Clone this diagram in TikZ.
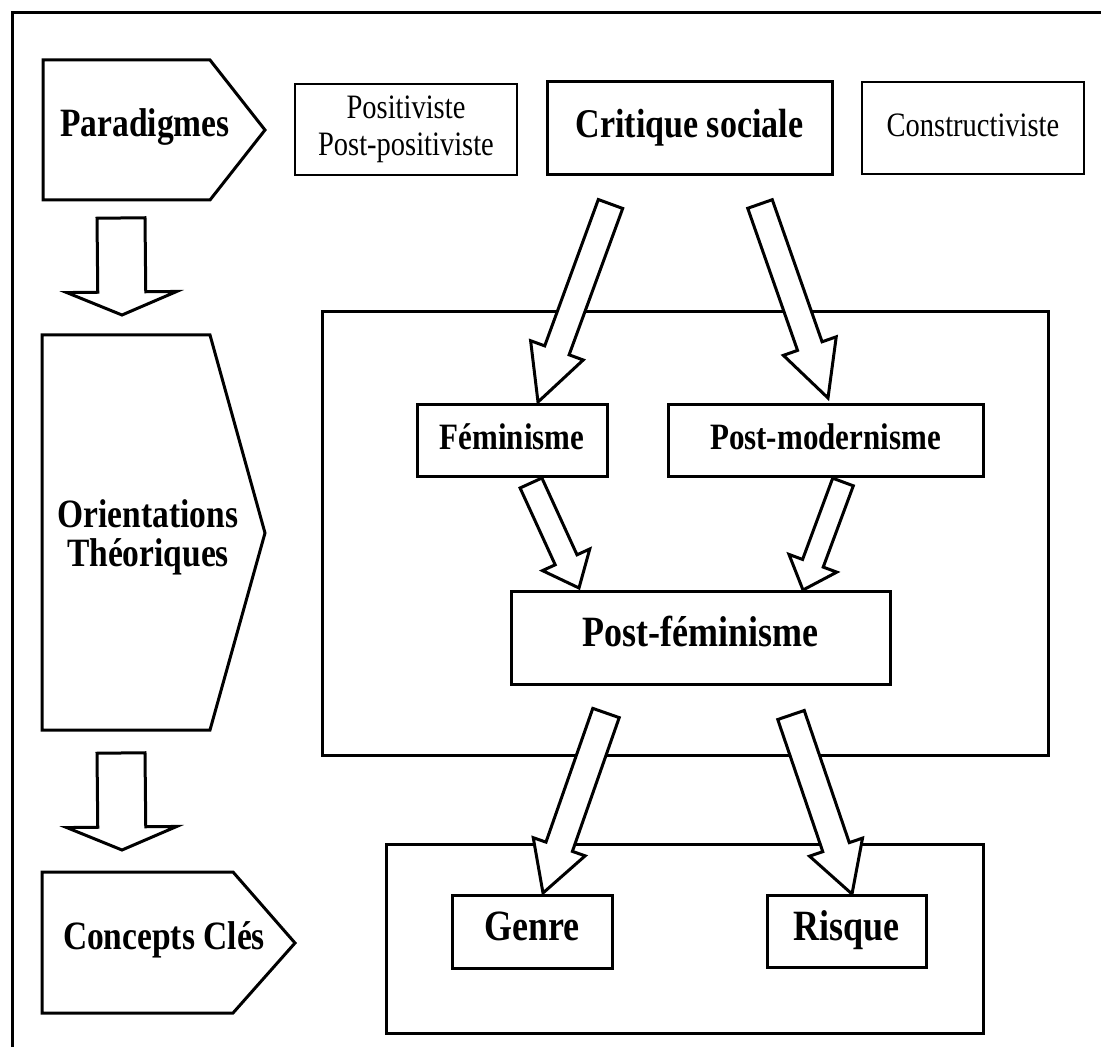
\documentclass[tikz,border=0pt]{standalone}
\usepackage{fontspec}
\usepackage{graphicx}
\setmainfont{Liberation Serif}
\usetikzlibrary{calc}
\newcommand\blockarr[6]{%
  \coordinate (#6t) at (#1);
  \coordinate (#6p) at (#2);
  \coordinate (#6b) at ($(#6p)!#5!(#6t)$);
  \draw[blk] ($(#6t)!#3!90:(#6p)$) -- ($(#6b)!#3!90:(#6p)$) -- ($(#6b)!#4!90:(#6p)$)
    -- (#6p) -- ($(#6b)!#4!-90:(#6p)$) -- ($(#6b)!#3!-90:(#6p)$) -- ($(#6t)!#3!-90:(#6p)$) -- cycle;
}
\newcommand\fLbl{\fontsize{33.5}{37}\selectfont\bfseries}
\newcommand\fLblTwo{\fontsize{33.5}{31}\selectfont\bfseries}
\newcommand\fCrit{\fontsize{34}{37}\selectfont\bfseries}
\newcommand\fMid{\fontsize{31}{34}\selectfont\bfseries}
\newcommand\fLow{\fontsize{36}{38}\selectfont\bfseries}
\newcommand\fReg{\fontsize{28.5}{34}\selectfont}
\newcommand\fRegTwo{\fontsize{28.5}{31.5}\selectfont}
\newcommand\tx[2]{\scalebox{1}[1.2]{#1\strut #2}}
\newcommand\txx[2]{\scalebox{1}[1.2]{#1\begin{tabular}{@{}c@{}}#2\end{tabular}}}
\tikzset{
  thick box/.style={draw, line width=3pt, inner sep=0pt, align=center},
  thin box/.style={draw, line width=1.5pt, inner sep=0pt, align=center},
  blk/.style={draw, line width=3pt, line join=miter, fill=white},
  pent/.style={draw, line width=3pt, line join=miter},
  lbl/.style={inner sep=0pt, align=center}
}
\begin{document}
\begin{tikzpicture}[x=1pt,y=-1pt]
\useasboundingbox (0,0) rectangle (1101,1056);
% outer frame (top and left edges)
\draw[line width=3pt] (12,1047) -- (12,13) -- (1101,13);

% left column pentagons
\draw[pent] (43,60) -- (210,60) -- (265,130) -- (210,200) -- (43,200) -- cycle;
\node[lbl] (para) at (145,128) {\tx{\fLbl}{Paradigmes}};
\draw[pent] (42,335) -- (210,335) -- (265,533) -- (210,730) -- (42,730) -- cycle;
\node[lbl] (orie) at (148,539) {\txx{\fLblTwo}{Orientations\\Théoriques}};
\draw[pent] (42,872) -- (233,872) -- (295,943) -- (233,1013) -- (42,1013) -- cycle;
\node[lbl] (conc) at (164,941) {\tx{\fLbl}{Concepts Clés}};

% paradigm boxes
\node[thin box, minimum width=222pt, minimum height=91pt] (posi) at (406,129.5)
  {\txx{\fRegTwo}{Positiviste\\Post-positiviste}};
\node[thick box, minimum width=285pt, minimum height=93pt] (crit) at (689.5,128.5)
  {\tx{\fCrit}{Critique sociale}};
\node[thin box, minimum width=222pt, minimum height=92pt] (cons) at (973,128)
  {\tx{\fReg}{Constructiviste}};

% big containers
\node[thick box, minimum width=726pt, minimum height=443pt] (big) at (685,533.5) {};
\node[thick box, minimum width=597pt, minimum height=189pt] (low) at (684.5,938.5) {};

% inner boxes
\node[thick box, minimum width=190pt, minimum height=72pt] (fem) at (512,441) {\tx{\fMid}{Féminisme}};
\node[thick box, minimum width=315pt, minimum height=72pt] (pmod) at (825.5,441) {\tx{\fMid}{Post-modernisme}};
\node[thick box, minimum width=379pt, minimum height=93pt] (pfem) at (700.5,637.5) {\tx{\fLow}{Post-féminisme}};
\node[thick box, minimum width=160pt, minimum height=73pt] (genre) at (532,931.5) {\tx{\fLow}{Genre}};
\node[thick box, minimum width=159pt, minimum height=72pt] (risq) at (846.5,931) {\tx{\fLow}{Risque}};

% block arrows
\blockarr{121,218}{122,315}{24pt}{55pt}{23pt}{d1}
\blockarr{121,753}{122,850}{24pt}{55pt}{23pt}{d2}
\blockarr{610.5,204}{538,402}{13pt}{28pt}{55pt}{c1}
\blockarr{760,204}{828,398}{13pt}{28pt}{55pt}{c2}
\blockarr{531,483}{579,588}{12pt}{26pt}{31pt}{f1}
\blockarr{843,482}{803,590}{11pt}{25.5pt}{28.5pt}{m1}
\blockarr{606,713}{543,893}{14pt}{27.5pt}{49pt}{g1}
\blockarr{791,715}{852,894}{14pt}{28pt}{49.5pt}{r1}
\end{tikzpicture}
\end{document}
